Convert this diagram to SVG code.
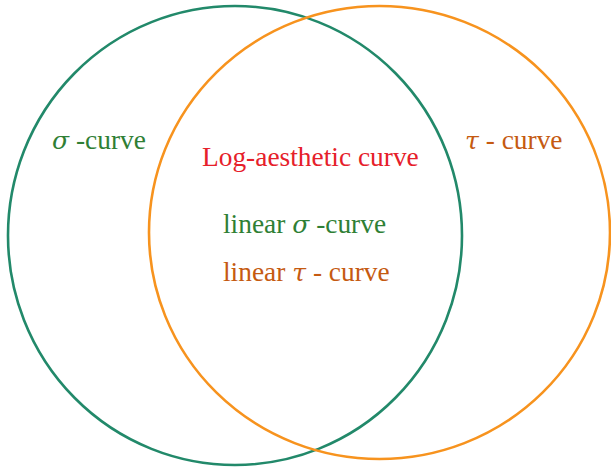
<svg xmlns="http://www.w3.org/2000/svg" width="611" height="474" viewBox="0 0 611 474">
<style>
.c{fill:none;stroke-width:2.6}
.t{font-family:"Liberation Serif","Times New Roman",serif;font-size:27.4px}
.g{fill:#2f7f35}
.r{fill:#e6202a}
.o{fill:#c55a11}
.m{font-style:italic;font-family:"DejaVu Serif","Liberation Serif",serif;font-size:25px}
</style>
<g id="sigma-set"><ellipse class="c" cx="235" cy="235.5" rx="227" ry="229.5" stroke="#22896a"/></g>
<g id="tau-set"><ellipse class="c" cx="379.5" cy="232.5" rx="230.5" ry="226.5" stroke="#f7931e"/></g>
<g id="sigma-label"><text class="t g" x="52" y="149"><tspan class="m">σ</tspan> -curve</text></g>
<g id="tau-label"><text class="t o" x="465" y="149"><tspan class="m">τ</tspan> - curve</text></g>
<g id="lac-label"><text class="t r" x="202" y="166">Log-aesthetic curve</text></g>
<g id="lin-sigma-label"><text class="t g" x="223" y="233">linear <tspan class="m">σ</tspan> -curve</text></g>
<g id="lin-tau-label"><text class="t o" x="223" y="281">linear <tspan class="m">τ</tspan> - curve</text></g>
<g id="connectors"/>
</svg>
